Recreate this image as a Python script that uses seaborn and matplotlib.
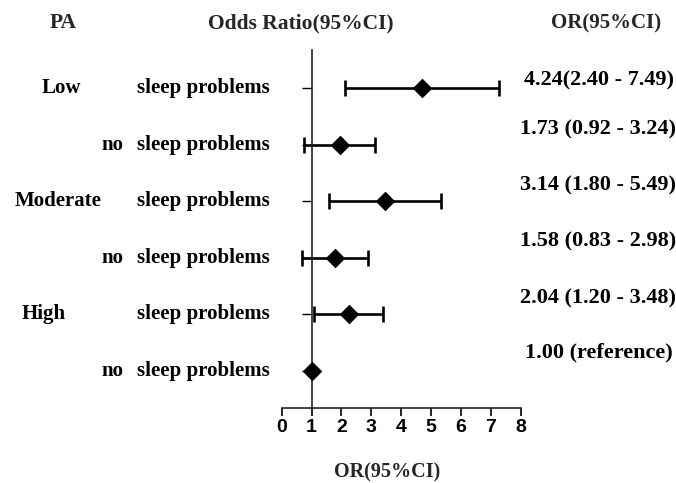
import numpy as np
import matplotlib
matplotlib.use("Agg")
import matplotlib.pyplot as plt
import matplotlib.transforms as mtransforms
import seaborn as sns

# rows from top to bottom
groups = ["Low", "", "Moderate", "", "High", ""]
conditions = ["sleep problems", "no sleep problems", "sleep problems",
              "no sleep problems", "sleep problems", "no sleep problems"]
# plotted positions
or_point = [4.70, 1.95, 3.45, 1.80, 2.25, 1.00]
ci_low = [2.12, 0.76, 1.59, 0.69, 1.07, np.nan]
ci_high = [7.26, 3.13, 5.33, 2.90, 3.40, np.nan]
# printed estimates
or_text = ["4.24(2.40 - 7.49)", "1.73 (0.92 - 3.24)", "3.14 (1.80 - 5.49)",
           "1.58 (0.83 - 2.98)", "2.04 (1.20 - 3.48)", "1.00 (reference)"]
x_ticks = [0, 1, 2, 3, 4, 5, 6, 7, 8]

sns.set_theme(style="ticks")
plt.rcParams["font.family"] = ["Liberation Serif", "DejaVu Serif"]

W, H = 676, 483
fig = plt.figure(figsize=(W / 100, H / 100), dpi=100)
ax = fig.add_axes([281.7 / W, 75 / H, 239 / W, 358 / H])

n = len(or_point)
ypos = np.arange(n, 0, -1)  # 6 .. 1, top to bottom
err = np.array([np.array(or_point) - np.array(ci_low),
                np.array(ci_high) - np.array(or_point)])

ax.errorbar(or_point, ypos, xerr=err, fmt="none", ecolor="black",
            elinewidth=1.9, capsize=6, capthick=1.9, zorder=2)
sns.scatterplot(x=or_point, y=ypos, marker="D", s=100, color="black",
                edgecolor="black", linewidth=0, ax=ax, zorder=3)

ax.set_xlim(0, 8)
ax.set_ylim(0.346, 6.67)
ax.set_xticks(x_ticks)
ax.set_xticklabels([str(t) for t in x_ticks], family="Liberation Sans",
                   fontweight="bold", fontsize=14)
ax.set_yticks(ypos)
ax.set_yticklabels([])

for s in ["top", "right"]:
    ax.spines[s].set_visible(False)
ax.spines["left"].set_position(("data", 1))
ax.spines["left"].set_linewidth(1.2)
ax.spines["bottom"].set_linewidth(1.2)
ax.tick_params(axis="x", length=6, width=1.2, direction="out", pad=2, colors="black")
ax.tick_params(axis="y", length=7, width=1.0, direction="out", colors="black")
ax.set_xlabel("")
ax.set_ylabel("")

font = dict(fontweight="bold", fontsize=15, color="black")
trans = mtransforms.blended_transform_factory(fig.transFigure, ax.transData)

# left columns
group_x = {"Low": 42, "Moderate": 15, "High": 22}
for y, g, c in zip(ypos, groups, conditions):
    if g:
        ax.text(group_x[g] / W, y, g, transform=trans, ha="left", va="center", **font)
    if c.startswith("no "):
        ax.text(123 / W, y, "no", transform=trans, ha="right", va="center", **font)
        c = c[3:]
    ax.text(137 / W, y, c, transform=trans, ha="left", va="center", **font)

# right column
offsets = [0.14, 0.265, 0.28, 0.28, 0.28, 0.32]
for y, t, o in zip(ypos, or_text, offsets):
    ax.text(598.5 / W, y + o, t, transform=trans, ha="center", va="center",
            fontweight="bold", fontsize=16, color="black")

# headers
fig.text(63.5 / W, 1 - 23 / H, "PA", ha="center", va="center", fontsize=15.5, fontweight="bold")
fig.text(301 / W, 1 - 23 / H, "Odds Ratio(95%CI)", ha="center", va="center",
         fontsize=15.5, fontweight="bold")
fig.text(606 / W, 1 - 23 / H, "OR(95%CI)", ha="center", va="center",
         fontsize=15, fontweight="bold")
fig.text(387 / W, 1 - 472 / H, "OR(95%CI)", ha="center", va="center",
         fontsize=14.5, fontweight="bold")

fig.savefig("out.png", dpi=100, facecolor="white")
